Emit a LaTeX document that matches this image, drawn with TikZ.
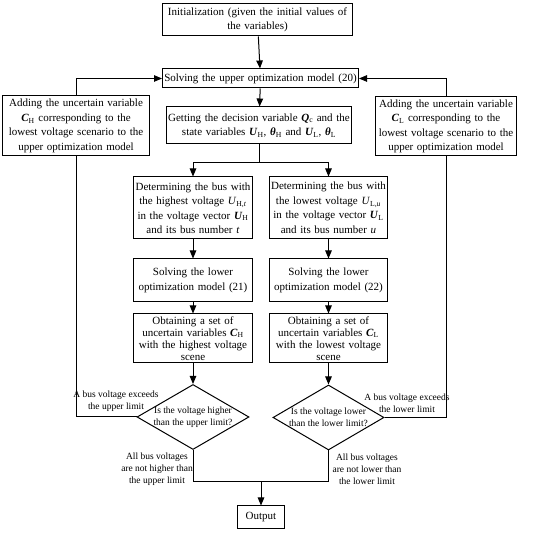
\documentclass[tikz,border=0pt]{standalone}
\usepackage{fontspec}
\setmainfont{Liberation Serif}
\usepackage{tikz}
\usetikzlibrary{positioning, shapes.geometric, arrows.meta}

\newcommand{\vb}[1]{\textbf{\textit{#1}}}
\newcommand{\boxfont}{\fontsize{11}{14.5}\selectfont}
\newcommand{\notefont}{\fontsize{9.5}{12}\selectfont}

\tikzset{
    box/.style={draw, rectangle, text centered, inner sep=1pt, font=\boxfont},
    decision/.style={draw, diamond, inner sep=0pt},
    note/.style={align=center, inner sep=0pt, font=\notefont}
}

\begin{document}
\begin{tikzpicture}[x=1pt, y=-1pt, line width=1pt, >={Triangle[length=8pt,width=6.5pt]}]
\useasboundingbox (0,0) rectangle (550,534);

% main column
\node[box, text width=188pt, minimum height=32pt] (init) at (257.5,20) {Initialization (given the initial values of\\ the variables)};
\node[box, text width=194pt, minimum height=19pt] (upper) at (260.5,78.5) {Solving the upper optimization model (20)};
\node[box, text width=183pt, minimum height=37pt] (getting) at (259,125.5) {Getting the decision variable \vb{Q}\textsubscript{c} and the\\ state variables \vb{U}\textsubscript{H}, \vb{θ}\textsubscript{H} and \vb{U}\textsubscript{L}, \vb{θ}\textsubscript{L}};

% side boxes
\node[box, text width=145pt, minimum height=60pt] (addH) at (76,126) {Adding the uncertain variable\\ \vb{C}\textsubscript{H} corresponding to the\\ lowest voltage scenario to the\\ upper optimization model};
\node[box, text width=139pt, minimum height=59pt] (addL) at (446,126.5) {Adding the uncertain variable\\ \vb{C}\textsubscript{L} corresponding to the\\ lowest voltage scenario to the\\ upper optimization model};

% left branch
\node[box, text width=117pt, minimum height=62pt] (detH) at (193,208) {Determining the bus with\\ the highest voltage \textit{U}\textsubscript{H,\textit{t}}\\ in the voltage vector \vb{U}\textsubscript{H}\\ and its bus number \textit{t}};
\node[box, text width=117pt, minimum height=43pt] (lowH) at (193,280.5) {Solving the lower\\ optimization model (21)};
\node[box, text width=117pt, minimum height=49pt, font=\fontsize{11}{12}\selectfont] (obtH) at (193,338.5) {Obtaining a set of\\ uncertain variables \vb{C}\textsubscript{H}\\ with the highest voltage\\ scene};
\node[decision, minimum width=112pt, minimum height=65pt,
      label={[align=center, font=\fontsize{9.5}{11.5}\selectfont]center:{Is the voltage higher\\than the upper limit?}}] (decH) at (193,417) {};

% right branch
\node[box, text width=116pt, minimum height=62pt] (detL) at (328.5,208) {Determining the bus with\\ the lowest voltage \textit{U}\textsubscript{L,\textit{u}}\\ in the voltage vector \vb{U}\textsubscript{L}\\ and its bus number \textit{u}};
\node[box, text width=116pt, minimum height=43pt] (lowL) at (328.5,280.5) {Solving the lower\\ optimization model (22)};
\node[box, text width=116pt, minimum height=49pt, font=\fontsize{11}{12}\selectfont] (obtL) at (328.5,338.5) {Obtaining a set of\\ uncertain variables \vb{C}\textsubscript{L}\\ with the lowest voltage\\ scene};
\node[decision, minimum width=111pt, minimum height=65pt,
      label={[align=center, font=\fontsize{9.5}{11.5}\selectfont]center:{Is the voltage lower\\than the lower limit?}}] (decL) at (328.5,417.5) {};

\node[box, text width=45pt, minimum height=23pt] (out) at (261,517.5) {Output};

% branch labels
\node[note] (exH) at (116,401) {A bus voltage exceeds\\the upper limit};
\node[note] (exL) at (407,403) {A bus voltage exceeds\\the lower limit};
\node[note] (okH) at (157,469) {All bus voltages\\are not higher than\\the upper limit};
\node[note] (okL) at (367,469) {All bus voltages\\are not lower than\\the lower limit};

% connectors
\coordinate (split) at (259,163);
\coordinate (merge) at (261,482);
\draw[->] (init) -- (upper);
\draw[->] (upper) -- (getting);
\draw (getting) -- (split);
\draw[->] (split) -| (detH);
\draw[->] (split) -| (detL);
\draw[->] (detH) -- (lowH);
\draw[->] (lowH) -- (obtH);
\draw[->] (obtH) -- (decH);
\draw[->] (detL) -- (lowL);
\draw[->] (lowL) -- (obtL);
\draw[->] (obtL) -- (decL);
\draw (decH.west) -| (addH.south);
\draw[->] (addH.north) |- (upper.west);
\draw (decL.east) -| (addL.south);
\draw[->] (addL.north) |- (upper.east);
\draw (decH.south) |- (merge);
\draw (decL.south) |- (merge);
\draw[->] (merge) -- (out);
\end{tikzpicture}
\end{document}
